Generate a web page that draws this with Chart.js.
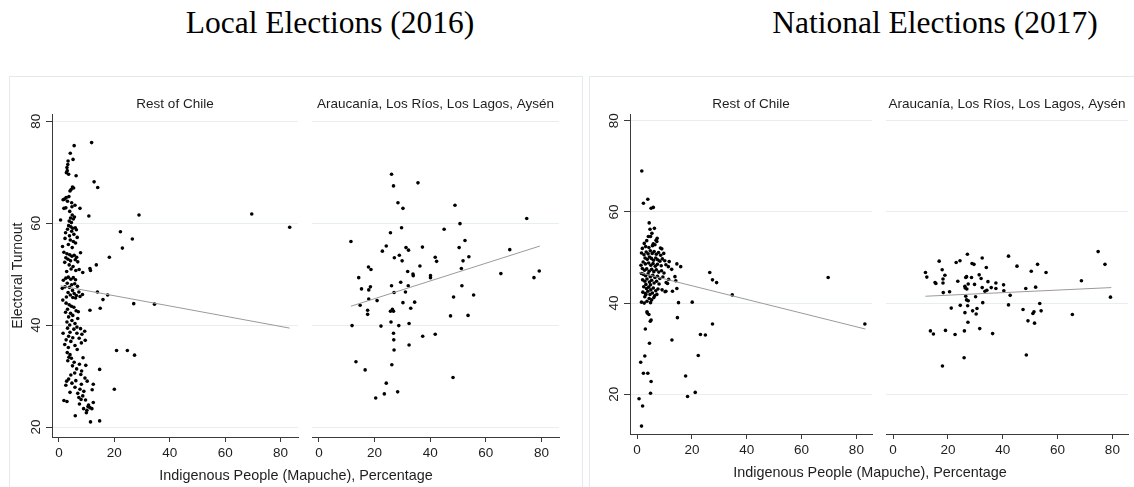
<!DOCTYPE html>
<html>
<head>
<meta charset="utf-8">
<script src="https://cdn.jsdelivr.net/npm/chart.js@4.4.1/dist/chart.umd.min.js"></script>
<style>
  html, body { margin: 0; padding: 0; background: #fff; }
  body { width: 1134px; height: 487px; position: relative; overflow: hidden; }
  .box { position: absolute; border: 1px solid #e3eaec; }
  .main { position: absolute; width: 500px; text-align: center; white-space: nowrap;
          font-family: "Liberation Serif", "Times New Roman", serif; font-size: 31.5px; line-height: 32px; color: #000; }
  .xt { position: absolute; width: 400px; text-align: center; white-space: nowrap;
        font-family: "Liberation Sans", Arial, sans-serif; font-size: 14.4px; line-height: 16px; color: #1e1e1e; }
  canvas { position: absolute; }
</style>
</head>
<body>
<div class="box" style="left:9px; top:76px; width:572px; height:440px;"></div>
<div class="box" style="left:589px; top:76px; width:562px; height:440px;"></div>

<div class="main" style="left:80px; top:7px;">Local Elections (2016)</div>
<div class="main" style="left:685px; top:7px;">National Elections (2017)</div>

<canvas id="c1" width="302" height="407" style="left:0px; top:80px;"></canvas>
<canvas id="c2" width="261" height="407" style="left:302px; top:80px;"></canvas>
<canvas id="c3" width="286" height="407" style="left:590px; top:80px;"></canvas>
<canvas id="c4" width="256" height="407" style="left:876px; top:80px;"></canvas>

<div class="xt" style="left:96px; top:467px;">Indigenous People (Mapuche), Percentage</div>
<div class="xt" style="left:670px; top:464px;">Indigenous People (Mapuche), Percentage</div>

<script>
// ---- data: [percentage Mapuche, turnout] ----
const xTicks = [0, 20, 40, 60, 80];
const yTicks = [20, 40, 60, 80];
const panelTitles = ['Rest of Chile', 'Araucanía, Los Ríos, Los Lagos, Aysén'];

// local elections 2016, rest of Chile
const local2016Rest = [
  [3.2,71.5],[2.9,70.9],[3.0,70.3],[3.5,69.6],[2.7,69.9],[4.1,73.7],[5.1,72.5],[3.3,72.2],[5.5,75.2],[6.2,69.3],[11.8,75.8],
  [4.9,67.1],[4.4,66.6],[4.0,66.3],[3.6,65.2],[2.6,65.0],[2.0,64.7],[1.5,64.6],[3.1,64.3],[4.6,64.0],[12.7,68.1],[14.0,67.0],[5.3,66.9],
  [1.8,62.9],[7.6,62.9],[5.8,63.5],[4.7,63.2],[2.5,63.0],[3.9,62.3],[4.8,61.6],[4.2,61.0],[5.2,60.8],[3.7,60.4],[0.6,60.6],[10.8,61.4],[28.9,61.6],[69.6,61.8],[4.5,60.1],[5.6,61.2],
  [3.5,59.5],[4.3,59.3],[5.0,59.0],[5.9,59.1],[6.3,58.7],[3.1,58.8],[4.6,58.4],[2.4,58.1],[5.4,57.8],[3.8,57.5],[6.6,57.2],[2.2,57.0],[4.1,56.7],[5.2,56.4],[6.0,56.1],[1.3,55.4],[3.4,55.8],[4.8,55.2],[22.2,58.3],[26.5,56.9],[22.9,55.1],
  [1.8,54.3],[2.9,54.0],[3.9,53.8],[4.7,53.5],[5.5,53.7],[6.4,53.3],[2.5,53.2],[7.8,54.2],[3.3,52.9],[4.2,52.6],[5.9,52.8],[2.1,52.3],[6.8,52.4],[3.7,51.8],[5.1,51.5],[4.4,51.0],[6.1,50.7],[2.8,50.5],[7.3,50.9],[8.6,50.3],[18.2,53.3],[13.5,51.8],[11.2,51.1],[11.4,50.7],
  [1.6,48.8],[2.5,49.2],[3.4,49.4],[4.3,49.0],[5.2,49.3],[6.0,48.9],[3.0,48.2],[4.6,47.9],[5.7,48.1],[2.2,47.5],[3.8,47.4],[6.7,47.6],[1.2,47.2],[4.9,46.8],[3.3,46.4],[5.5,46.2],[6.3,45.8],[4.1,45.9],[7.2,46.5],[2.7,45.5],[5.0,45.4],[6.0,45.3],[7.6,45.6],[8.5,46.0],[13.9,46.5],[17.6,45.9],[15.9,45.0],[1.4,44.9],
  [2.6,44.3],[3.7,44.0],[4.5,43.7],[5.4,43.5],[3.1,43.1],[6.2,42.8],[2.4,42.5],[4.2,42.3],[7.0,42.6],[5.0,41.9],[3.5,41.6],[6.8,41.3],[4.7,40.9],[2.9,40.6],[5.8,40.3],[3.9,40.0],[6.5,39.6],[14.9,43.3],[11.2,42.9],[27.0,44.2],[34.5,44.1],
  [3.1,39.4],[5.4,39.2],[7.8,39.3],[9.3,38.8],[4.0,38.6],[1.5,38.4],[6.5,38.4],[8.3,38.2],[3.5,37.8],[5.0,37.5],[7.3,37.4],[9.5,37.0],[2.6,37.1],[4.3,36.8],[8.1,36.5],[2.1,36.2],[5.8,36.0],[3.4,35.6],[6.6,35.2],[20.8,35.0],[24.7,35.0],[27.3,34.1],
  [3.0,34.6],[4.0,34.2],[3.6,33.7],[4.5,33.5],[8.7,33.6],[3.2,33.0],[5.5,32.7],[7.4,32.3],[4.9,32.0],[9.7,32.1],[6.4,31.4],[8.2,31.0],[5.7,30.6],[4.3,30.2],[14.7,31.3],[7.9,30.3],
  [3.5,29.4],[2.8,29.0],[9.4,29.6],[6.1,29.1],[4.7,28.6],[8.1,28.4],[2.5,28.2],[10.2,29.0],[5.8,27.8],[7.6,27.4],[9.0,27.0],[4.0,26.8],[6.8,26.6],[8.6,26.1],[12.4,28.4],[12.0,27.3],[20.0,27.4],[1.8,25.2],[2.9,25.0],[7.2,25.8],[9.6,25.3],[8.0,25.4],
  [10.5,24.0],[11.2,23.8],[10.1,23.3],[10.7,24.3],[12.4,24.8],[9.9,22.8],[5.9,22.2],[11.4,21.0],[14.7,21.2],[8.9,23.6],[11.9,23.6],[7.4,24.5],
  [83.3,59.2]
];

// local elections 2016, Araucanía / Los Ríos / Los Lagos / Aysén
const local2016South = [
  [26.1,69.6],[26.8,67.3],[35.6,67.9],[28.4,64.0],[30.2,62.9],[48.9,63.5],[74.7,60.9],[50.7,59.9],[25.7,58.1],[29.7,59.1],[45.0,58.8],
  [11.5,56.4],[24.2,55.5],[22.8,54.5],[31.3,55.2],[32.2,54.7],[37.2,55.3],[52.5,56.6],[68.6,54.8],[28.9,53.7],[27.1,53.2],[29.9,52.6],
  [41.8,53.3],[42.3,52.5],[50.4,55.2],[53.9,53.4],[51.8,52.6],[17.8,51.4],[18.7,50.9],[31.9,50.5],[36.3,51.6],[33.8,50.0],[33.9,49.7],
  [40.1,49.7],[40.1,49.3],[51.2,51.1],[65.4,50.1],[77.3,49.3],[79.2,50.6],[14.3,49.3],[15.3,47.1],[17.9,46.9],[18.5,47.5],[26.1,47.7],
  [29.4,48.4],[32.1,47.7],[27.0,46.4],[31.1,46.5],[51.4,47.7],[55.6,45.9],[48.4,45.5],[17.9,45.1],[20.9,44.8],[14.8,43.9],[30.2,44.4],
  [34.4,44.5],[33.0,43.3],[26.4,43.1],[26.8,42.7],[25.7,42.7],[17.5,42.9],[17.5,42.1],[25.9,40.6],[32.4,40.3],[28.7,39.9],[22.3,39.8],
  [11.9,39.9],[47.3,41.8],[53.6,41.9],[26.8,38.4],[37.3,37.8],[41.8,38.2],[26.9,37.1],[27.0,35.1],[32.4,36.1],[13.3,32.8],[16.6,31.2],
  [26.2,32.2],[48.2,29.7],[24.2,28.6],[28.3,26.9],[23.5,26.5],[20.4,25.7]
];

// national elections 2017, rest of Chile
const nat2017Rest = [
  [1.7,69.0],[3.9,62.8],[2.3,61.9],[5.1,60.8],[5.9,61.0],
  [4.4,57.6],[4.7,56.2],[6.3,56.4],[5.4,55.3],[4.1,54.6],[4.9,54.6],[7.3,54.2],[7.2,53.5],[3.5,53.7],[1.9,52.0],[5.9,53.0],[5.6,52.6],[6.5,52.8],[8.5,52.1],[9.0,51.9],[3.1,52.4],[4.3,52.2],[2.6,53.1],[6.9,53.8],
  [1.6,51.0],[2.5,50.6],[3.3,51.2],[4.0,50.8],[4.8,51.5],[5.5,50.9],[6.2,51.3],[7.0,50.7],[7.8,51.1],[8.6,50.5],[9.7,50.9],[2.9,49.9],[3.7,49.6],[4.5,50.1],[5.2,49.8],[6.0,49.4],[6.8,49.9],[7.5,49.5],[8.3,49.2],[9.2,49.7],[10.1,49.3],[11.7,49.1],[2.2,49.0],[3.0,48.6],[4.2,48.8],[5.0,48.3],[5.8,48.7],[6.6,48.1],[7.4,48.5],[8.8,48.2],[10.5,48.4],[14.5,48.6],[15.9,48.0],[11.4,48.0],[1.4,48.3],
  [1.9,47.6],[2.7,47.2],[3.5,47.5],[4.4,47.0],[5.3,47.4],[6.1,46.9],[7.0,47.3],[7.9,46.8],[8.9,47.1],[9.8,46.6],[12.6,47.4],[2.3,46.3],[3.1,46.0],[4.0,46.4],[4.8,45.8],[5.7,46.1],[6.5,45.6],[7.4,45.9],[8.3,45.4],[9.4,45.7],[11.5,45.2],[13.8,45.8],[14.1,44.9],[1.6,46.5],[2.0,45.1],[2.8,44.8],[3.6,45.3],[4.5,44.6],[5.3,45.0],[6.2,44.4],[7.1,44.8],[8.0,44.2],[10.6,44.5],[11.1,44.3],[3.2,44.1],[4.9,44.0],[26.5,46.7],[27.5,45.1],[29.0,44.5],[69.7,45.6],
  [2.4,43.6],[3.4,43.2],[4.2,43.5],[5.0,42.9],[5.9,43.3],[6.8,42.7],[7.6,43.1],[9.1,42.9],[2.1,42.4],[3.0,42.1],[3.9,42.6],[4.7,41.9],[5.6,42.2],[6.4,41.6],[7.2,41.9],[14.5,43.2],[12.9,42.6],[10.5,42.6],[10.2,42.5],[3.2,41.9],[2.8,41.4],[4.4,41.0],[5.3,40.7],[6.1,41.2],[3.6,40.4],[4.9,40.1],[1.6,40.2],[2.6,40.0],[15.1,40.1],[20.1,40.2],[34.7,41.8],
  [3.6,38.1],[3.7,37.8],[4.3,37.5],[5.1,36.3],[4.8,36.0],[14.7,36.8],[27.5,35.4],[3.0,34.3],[12.7,31.9],[4.5,31.2],[23.1,33.1],[24.9,33.0],[22.3,28.5],[2.8,28.4],[1.3,27.0],[2.3,24.6],[3.9,24.6],[5.1,22.8],[17.7,24.0],[4.9,20.2],[18.4,19.5],[21.2,20.4],[0.7,19.0],[2.0,17.4],[1.6,13.0],[83.1,35.4]
];

// national elections 2017, Araucanía / Los Ríos / Los Lagos / Aysén
const nat2017South = [
  [74.8,51.3],[77.3,48.5],[79.3,41.3],[68.7,44.9],[65.4,37.5],[27.1,50.7],[42.1,50.3],[32.5,49.9],[16.8,49.2],[23.0,48.9],[24.4,49.3],
  [28.8,48.7],[29.5,48.5],[34.0,47.8],[45.2,48.1],[52.7,48.5],[50.4,47.0],[55.8,46.7],[11.8,46.7],[12.3,45.7],[17.9,47.3],[18.9,46.1],
  [18.2,45.3],[15.6,44.3],[15.3,44.5],[18.2,44.4],[23.6,44.8],[26.5,45.6],[26.8,45.8],[28.6,45.6],[31.4,46.2],[32.1,45.4],[29.7,44.1],
  [26.2,43.7],[26.3,43.3],[26.9,43.1],[27.4,44.2],[34.6,44.7],[37.5,44.4],[35.8,43.4],[37.5,43.2],[32.5,43.4],[33.5,42.6],[34.2,42.8],
  [40.3,44.0],[40.4,42.7],[20.6,42.5],[18.3,42.3],[48.4,43.2],[52.0,43.5],[42.7,41.7],[30.1,41.4],[26.5,41.5],[26.8,40.7],[27.4,40.5],
  [32.7,40.1],[53.5,39.9],[42.1,39.6],[24.5,39.5],[27.2,39.4],[21.2,38.9],[30.6,38.8],[29.0,38.3],[47.4,38.6],[51.4,38.1],[51.0,37.7],
  [54.0,38.3],[26.2,37.9],[30.3,37.6],[27.3,35.8],[49.2,36.1],[51.6,35.6],[31.6,34.4],[13.6,33.9],[14.7,33.2],[19.1,34.0],[26.0,33.9],
  [22.6,33.1],[36.3,33.3],[25.9,28.0],[48.6,28.6],[18.0,26.2]
];

// fitted lines (end points)
const localRestFitX = [0.6, 83.3],  localRestFitY = [47.7, 39.4];
const localSouthFitX = [11.5, 79.4], localSouthFitY = [43.7, 55.5];
const natRestFitX = [0.7, 83.3],    natRestFitY = [46.7, 34.3];
const natSouthFitX = [11.8, 79.6],  natSouthFitY = [41.5, 43.4];

const sans = 'Liberation Sans, Arial, sans-serif';
const axisCol = '#3a3a3a';
const gridCol = '#e6eef0';

function panel(id, pts, fitX, fitY, o) {
  return new Chart(document.getElementById(id), {
    type: 'scatter',
    data: {
      datasets: [
        {
          data: fitX.map((x, i) => ({ x: x, y: fitY[i] })),
          type: 'line', showLine: true, fill: false,
          borderColor: '#9a9a9a', borderWidth: 1, pointRadius: 0
        },
        {
          data: pts.map(p => ({ x: p[0], y: p[1] })),
          pointRadius: 1.8, pointBorderWidth: 0,
          pointBackgroundColor: '#000', backgroundColor: '#000'
        }
      ]
    },
    options: {
      responsive: false,
      animation: false,
      events: [],
      layout: { padding: { left: o.padLeft, top: 0, right: 0, bottom: 0 } },
      plugins: {
        legend: { display: false },
        tooltip: { enabled: false },
        title: {
          display: true, text: o.title, fullSize: false, color: '#1e1e1e',
          font: { family: sans, size: 13.5, weight: 'normal' },
          padding: { top: 16, bottom: 2 }
        }
      },
      scales: {
        x: {
          type: 'linear', min: o.xMin, max: o.xMax,
          afterBuildTicks: s => { s.ticks = xTicks.map(v => ({ value: v })); },
          afterFit: s => { s.height = o.xH; },
          border: { display: true, color: axisCol, width: 1 },
          grid: { display: true, drawOnChartArea: false, drawTicks: true, tickLength: 5, tickColor: axisCol },
          ticks: { color: '#1e1e1e', font: { family: sans, size: 13.5 }, padding: 3, maxRotation: 0, minRotation: 0 }
        },
        y: {
          type: 'linear', min: o.yMin, max: o.yMax,
          afterBuildTicks: s => { s.ticks = yTicks.map(v => ({ value: v })); },
          afterFit: s => { s.width = o.yW; },
          border: { display: o.showY, color: axisCol, width: 1 },
          grid: { display: true, drawOnChartArea: true, color: gridCol, lineWidth: 1,
                  drawTicks: o.showY, tickLength: 6, tickColor: axisCol },
          ticks: { display: o.showY, color: '#1e1e1e', font: { family: sans, size: 13.5 }, padding: 2,
                   minRotation: 90, maxRotation: 90, crossAlign: 'center' },
          title: { display: !!o.yTitle, text: o.yTitle || '', color: '#1e1e1e',
                   font: { family: sans, size: 14 }, padding: { top: 10, bottom: 0 } }
        }
      }
    }
  });
}

// Local elections (2016)
panel('c1', local2016Rest, localRestFitX, localRestFitY,
  { title: panelTitles[0], xMin: -2.5, xMax: 86.3, yMin: 18.04, yMax: 81.37, xH: 50, yW: 52, padLeft: 0, showY: true, yTitle: 'Electoral Turnout' });
panel('c2', local2016South, localSouthFitX, localSouthFitY,
  { title: panelTitles[1], xMin: -2.5, xMax: 86.3, yMin: 18.04, yMax: 81.37, xH: 50, yW: 0, padLeft: 10, showY: false });

// National elections (2017)
panel('c3', nat2017Rest, natRestFitX, natRestFitY,
  { title: panelTitles[0], xMin: -2.6, xMax: 85.7, yMin: 11.27, yMax: 81.45, xH: 53, yW: 40, padLeft: 0, showY: true });
panel('c4', nat2017South, natSouthFitX, natSouthFitY,
  { title: panelTitles[1], xMin: -2.6, xMax: 85.7, yMin: 11.27, yMax: 81.45, xH: 53, yW: 0, padLeft: 10, showY: false });
</script>
</body>
</html>
